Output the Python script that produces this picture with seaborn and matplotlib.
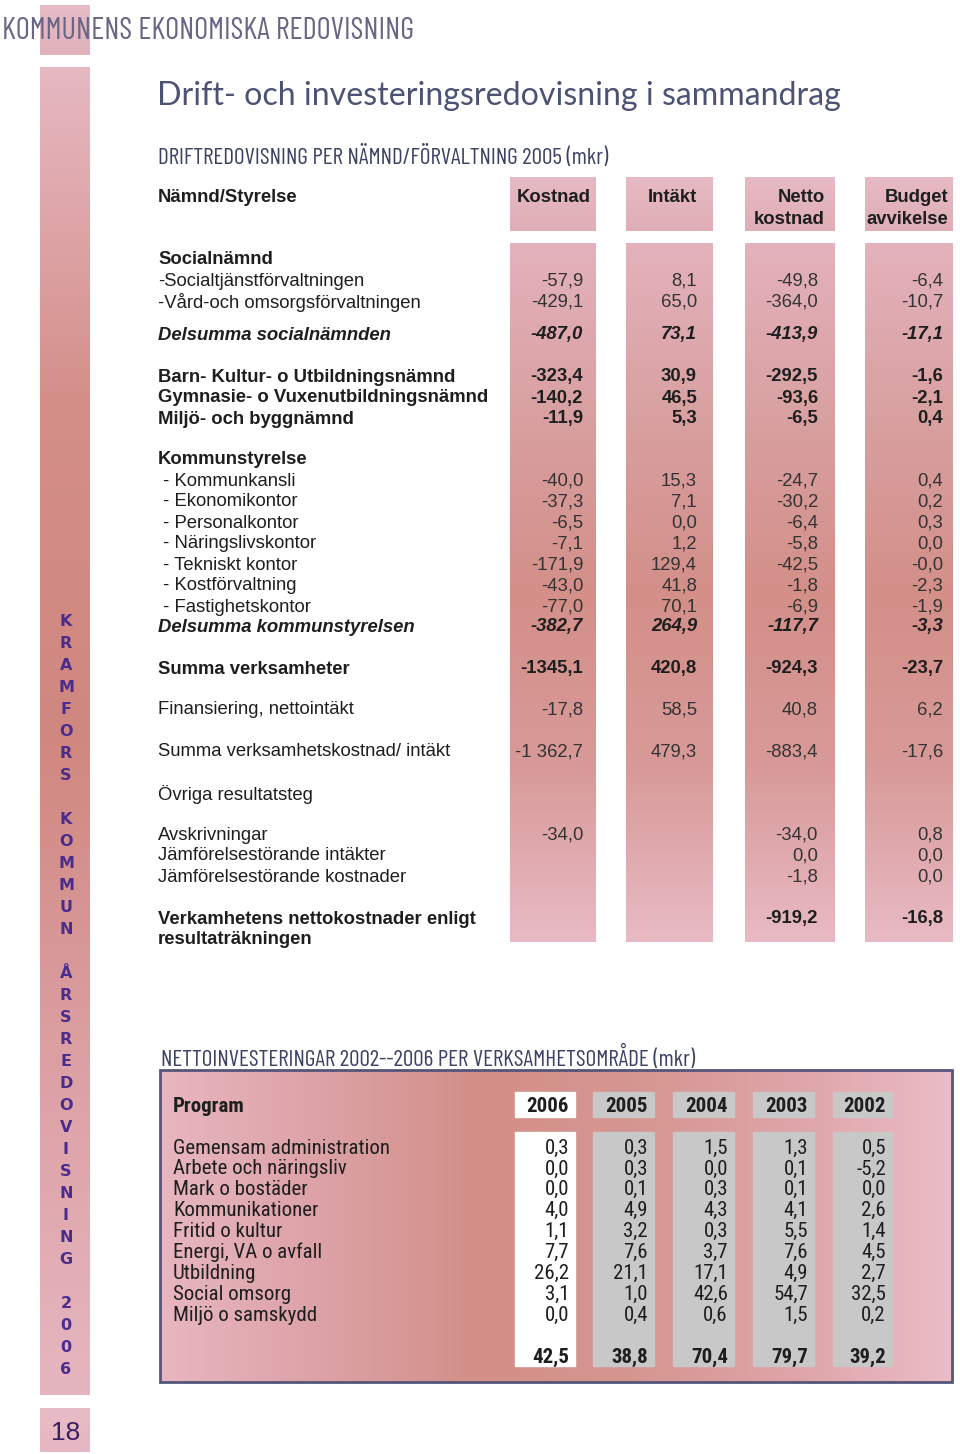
import numpy as np
import matplotlib
matplotlib.use('Agg')
import matplotlib.pyplot as plt
import seaborn as sns

# ---- data: driftredovisning per nämnd 2005 (mkr) ----
drift_labels = [
    "Socialnämnd", "-Socialtjänstförvaltningen", "-Vård-och omsorgsförvaltningen",
    "Delsumma socialnämnden", "Barn- Kultur- o Utbildningsnämnd",
    "Gymnasie- o Vuxenutbildningsnämnd", "Miljö- och byggnämnd", "Kommunstyrelse",
    " - Kommunkansli", " - Ekonomikontor", " - Personalkontor", " - Näringslivskontor",
    " - Tekniskt kontor", " - Kostförvaltning", " - Fastighetskontor",
    "Delsumma kommunstyrelsen", "Summa verksamheter", "Finansiering, nettointäkt",
    "Summa verksamhetskostnad/ intäkt", "Övriga resultatsteg", "Avskrivningar",
    "Jämförelsestörande intäkter", "Jämförelsestörande kostnader",
    "Verkamhetens nettokostnader enligt\nresultaträkningen",
]
kostnad = ["", "-57,9", "-429,1", "-487,0", "-323,4", "-140,2", "-11,9", "",
           "-40,0", "-37,3", "-6,5", "-7,1", "-171,9", "-43,0", "-77,0", "-382,7",
           "-1345,1", "-17,8", "-1 362,7", "", "-34,0", "", "", ""]
intakt = ["", "8,1", "65,0", "73,1", "30,9", "46,5", "5,3", "",
          "15,3", "7,1", "0,0", "1,2", "129,4", "41,8", "70,1", "264,9",
          "420,8", "58,5", "479,3", "", "", "", "", ""]
netto = ["", "-49,8", "-364,0", "-413,9", "-292,5", "-93,6", "-6,5", "",
         "-24,7", "-30,2", "-6,4", "-5,8", "-42,5", "-1,8", "-6,9", "-117,7",
         "-924,3", "40,8", "-883,4", "", "-34,0", "0,0", "-1,8", "-919,2"]
budget = ["", "-6,4", "-10,7", "-17,1", "-1,6", "-2,1", "0,4", "",
          "0,4", "0,2", "0,3", "0,0", "-0,0", "-2,3", "-1,9", "-3,3",
          "-23,7", "6,2", "-17,6", "", "0,8", "0,0", "0,0", "-16,8"]
drift_headers = ["Kostnad", "Intäkt", "Netto\nkostnad", "Budget\navvikelse"]

# ---- data: nettoinvesteringar 2002-2006 (mkr) ----
years = ["2006", "2005", "2004", "2003", "2002"]
programs = ["Gemensam administration", "Arbete och näringsliv", "Mark o bostäder",
            "Kommunikationer", "Fritid o kultur", "Energi, VA o avfall",
            "Utbildning", "Social omsorg", "Miljö o samskydd"]
inv_2006 = [0.3, 0.0, 0.0, 4.0, 1.1, 7.7, 26.2, 3.1, 0.0]
inv_2005 = [0.3, 0.3, 0.1, 4.9, 3.2, 7.6, 21.1, 1.0, 0.4]
inv_2004 = [1.5, 0.0, 0.3, 4.3, 0.3, 3.7, 17.1, 42.6, 0.6]
inv_2003 = [1.3, 0.1, 0.1, 4.1, 5.5, 7.6, 4.9, 54.7, 1.5]
inv_2002 = [0.5, -5.2, 0.0, 2.6, 1.4, 4.5, 2.7, 32.5, 0.2]
inv_totals = [42.5, 38.8, 70.4, 79.7, 39.2]

side_text = "KRAMFORS KOMMUN ÅRSREDOVISNING 2006"

# ---- styles / layout ----
sns.set_theme(style="white")
plt.rcParams['font.family'] = ['Liberation Sans', 'DejaVu Sans']
NARROW = ['Roboto Condensed', 'Archivo Narrow', 'Liberation Sans', 'DejaVu Sans']
CAPS = ['Barlow Condensed', 'Roboto Condensed', 'Archivo Narrow', 'DejaVu Sans']
FS = 13.3

# row styles: r regular, b bold, bi bold italic, h heading (bold, no values)
drift_style = ["h", "r", "r", "bi", "b", "b", "b", "h", "r", "r", "r", "r", "r",
               "r", "r", "bi", "b", "r", "r", "r", "r", "r", "r", "b"]
drift_y = [258, 279, 300, 333, 375, 396, 417, 458, 479, 500, 521, 542, 563,
           584, 605, 625, 667, 708, 750, 792, 833, 854, 875, 917]
col_box = [(510, 596), (626, 713), (745, 835), (865, 953)]
col_right = [583, 697, 818, 943]
head_right = [591, 697, 825, 948]
txt = "#1e1e1e"

fig = plt.figure(figsize=(9.6, 14.54), dpi=100)
ax = fig.add_axes([0, 0, 1, 1])


def grad_rect(x0, x1, y0, y1, colors, horizontal=False, z=1):
    pal = np.array(sns.blend_palette(colors, 256))
    img = pal[np.newaxis, :, :] if horizontal else pal[:, np.newaxis, :]
    ax.imshow(img, extent=(x0, x1, y1, y0), aspect='auto',
              interpolation='bilinear', zorder=z)


# side bar
grad_rect(40, 90, 5, 55, ["#e6bcc6", "#e0b2bb"])
grad_rect(40, 90, 67, 1395, ["#e6b8c2", "#d48f89", "#d0877f", "#dca0a4", "#e6b6c0"])
grad_rect(40, 90, 1408, 1452, ["#e8bcc7", "#e6b6c2"])
ax.text(66, 1431, "18", ha='center', va='center_baseline', fontsize=19,
        color="#3b1f63")
for i, ch in enumerate(side_text):
    ax.text(66, 622 + 22 * i, ch, ha='center', va='center', fontsize=11.5,
            fontweight='bold', color="#4a2c8c", family=['DejaVu Sans'])

# headings
ax.text(2, 28, "KOMMUNENS EKONOMISKA REDOVISNING", ha='left',
        va='center_baseline', fontsize=22, color="#6a6585", family=CAPS, zorder=5)
ax.text(157, 93, "Drift- och investeringsredovisning i sammandrag", ha='left',
        va='center_baseline', fontsize=23.1, color="#4c5273",
        family=['Lato', 'DejaVu Sans'])
ax.text(158, 155, "DRIFTREDOVISNING PER NÄMND/FÖRVALTNING 2005 (mkr)", ha='left',
        va='center_baseline', fontsize=16.8, color="#3c4264", family=CAPS)

# top table column boxes
for (x0, x1) in col_box:
    grad_rect(x0, x1, 177, 231, ["#e6bac4", "#e0aeb6"])
    grad_rect(x0, x1, 243, 942, ["#e4b2bc", "#d8a0a0", "#d48f89", "#d89a98", "#e8bac4"])

ax.text(158, 196, "Nämnd/Styrelse", ha='left', va='center_baseline', fontsize=FS,
        fontweight='bold', color=txt)
for hx, h in zip(head_right, drift_headers):
    for k, line in enumerate(h.split('\n')):
        ax.text(hx, 196 + 21 * k, line, ha='right', va='center_baseline',
                fontsize=FS, fontweight='bold', color=txt)

for i, lab in enumerate(drift_labels):
    st = drift_style[i]
    weight = 'normal' if st == 'r' else 'bold'
    style = 'italic' if st == 'bi' else 'normal'
    y = drift_y[i]
    for k, line in enumerate(lab.split('\n')):
        ax.text(158, y + k * 20.5, line, ha='left', va='center_baseline',
                fontsize=FS, fontweight=weight, fontstyle=style, color=txt)
    for cx, vals in zip(col_right, [kostnad, intakt, netto, budget]):
        if vals[i]:
            ax.text(cx, y, vals[i], ha='right', va='center_baseline', fontsize=FS,
                    fontweight=weight, fontstyle=style,
                    color=txt if st != 'r' else "#333333")

# bottom section
ax.text(161, 1056, "NETTOINVESTERINGAR 2002--2006 PER VERKSAMHETSOMRÅDE (mkr)",
        ha='left', va='center_baseline', fontsize=16.8, color="#3c4264",
        family=CAPS)
grad_rect(160, 952, 1070, 1382,
          ["#e8b6c0", "#dca2a6", "#d38f88", "#d69690", "#dea4a8", "#ebbcc6"],
          horizontal=True)
ax.add_patch(plt.Rectangle((160, 1070), 792, 312, fill=False,
                           edgecolor="#55557a", lw=2, zorder=3))

inv_cols = [inv_2006, inv_2005, inv_2004, inv_2003, inv_2002]
inv_box = [(515, 575), (593, 654), (673, 734), (753, 814), (833, 892)]
inv_y = [1146 + 20.9 * i for i in range(len(programs))]
IFS = 15
for j, (x0, x1) in enumerate(inv_box):
    face = "white" if j == 0 else "#c8c8c8"
    ax.add_patch(plt.Rectangle((x0, 1092), x1 - x0, 25, color=face, zorder=2))
    ax.add_patch(plt.Rectangle((x0, 1132), x1 - x0, 234, color=face, zorder=2))
    ax.text(x1 - 6, 1105, years[j], ha='right', va='center_baseline',
            fontsize=IFS, fontweight='bold', color=txt, family=NARROW, zorder=4)
    for i, v in enumerate(inv_cols[j]):
        ax.text(x1 - 6, inv_y[i], f"{v:.1f}".replace('.', ','), ha='right',
                va='center_baseline', fontsize=IFS, color=txt, family=NARROW,
                zorder=4)
    ax.text(x1 - 6, 1355, f"{inv_totals[j]:.1f}".replace('.', ','), ha='right',
            va='center_baseline', fontsize=IFS, fontweight='bold', color=txt,
            family=NARROW, zorder=4)

ax.text(173, 1105, "Program", ha='left', va='center_baseline', fontsize=IFS,
        fontweight='bold', color=txt, family=NARROW, zorder=4)
for i, p in enumerate(programs):
    ax.text(173, inv_y[i], p, ha='left', va='center_baseline', fontsize=IFS,
            color=txt, family=NARROW, zorder=4)

ax.set_xlim(0, 960)
ax.set_ylim(1454, 0)
ax.axis('off')
fig.savefig("out.png", dpi=100, facecolor="white")
